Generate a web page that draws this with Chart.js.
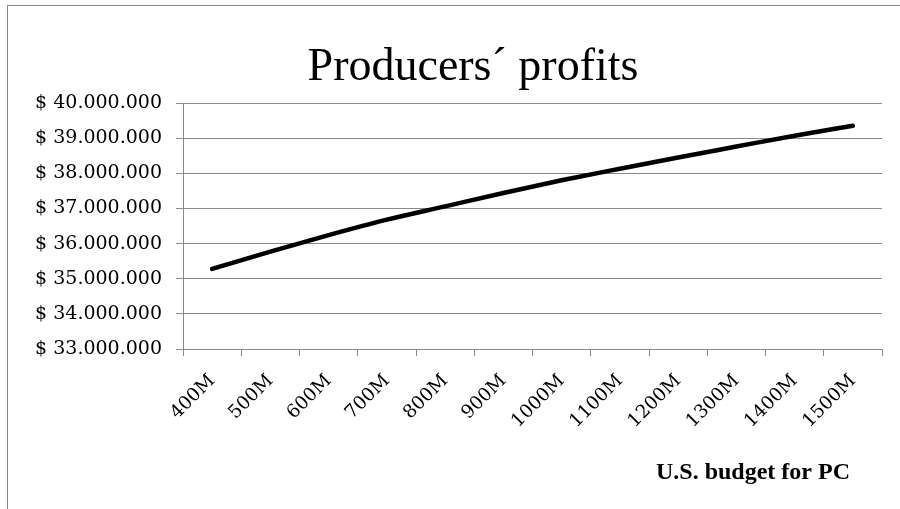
<!DOCTYPE html>
<html>
<head>
<meta charset="utf-8">
<script src="https://cdn.jsdelivr.net/npm/chart.js@4/dist/chart.umd.min.js"></script>
<style>
  html, body { margin: 0; padding: 0; background: #fff; overflow: hidden; }
  #frame { position: absolute; left: 7px; top: 5px; width: 1200px; height: 1200px; border: 1px solid #8a8a8a; }
  #c { position: absolute; left: 0; top: 0; }
</style>
</head>
<body>
<div id="frame"></div>
<canvas id="c" width="900" height="509"></canvas>
<script>
const chartTitle = 'Producers´ profits';
const xAxisTitle = 'U.S. budget for PC';
const categories = ['400M', '500M', '600M', '700M', '800M', '900M', '1000M', '1100M', '1200M', '1300M', '1400M', '1500M'];
const profits = [35280000, 35770000, 36240000, 36680000, 37060000, 37440000, 37800000, 38130000, 38450000, 38760000, 39070000, 39350000];
const yMin = 33000000;
const yMax = 40000000;
const yStep = 1000000;

const TITLE_FONT = "'Liberation Serif', 'Times New Roman', serif";
const LABEL_FONT = "'DejaVu Serif', 'Liberation Serif', serif";
const GRID = '#8a8a8a';

function fmtMoney(v) {
  return '$ ' + String(Math.round(v)).replace(/\B(?=(\d{3})+(?!\d))/g, '.');
}

// Draws the chart title and the x axis title as canvas text.
const titlesPlugin = {
  id: 'titles',
  afterDraw(chart) {
    const ctx = chart.ctx;
    const ca = chart.chartArea;
    ctx.save();
    ctx.fillStyle = '#000';
    ctx.textBaseline = 'alphabetic';
    ctx.font = '46px ' + TITLE_FONT;
    ctx.textAlign = 'center';
    ctx.fillText(chartTitle, 473, ca.top - 23);
    ctx.font = 'bold 24px ' + TITLE_FONT;
    ctx.textAlign = 'right';
    ctx.fillText(xAxisTitle, ca.right - 32, 479);
    ctx.restore();
  }
};

new Chart(document.getElementById('c'), {
  type: 'line',
  data: {
    labels: categories,
    datasets: [{
      data: profits,
      borderColor: '#000',
      borderWidth: 4.5,
      borderCapStyle: 'round',
      borderJoinStyle: 'round',
      pointRadius: 0,
      fill: false,
      cubicInterpolationMode: 'monotone'
    }]
  },
  options: {
    responsive: false,
    animation: false,
    devicePixelRatio: 1,
    layout: { padding: { left: 30, right: 18, top: 103, bottom: 0 } },
    plugins: {
      legend: { display: false },
      tooltip: { enabled: false },
      title: { display: false }
    },
    scales: {
      x: {
        type: 'category',
        offset: true,
        grid: { display: true, drawOnChartArea: false, drawTicks: true, tickLength: 7, offset: true, color: GRID, lineWidth: 1 },
        border: { display: true, color: GRID, width: 1 },
        ticks: {
          color: '#000',
          font: { family: LABEL_FONT, size: 18.5 },
          minRotation: 45,
          maxRotation: 45,
          padding: 14,
          autoSkip: false
        },
        afterFit(scale) { scale.height = 160; }
      },
      y: {
        min: yMin,
        max: yMax,
        grid: { display: true, drawTicks: true, tickLength: 7, color: GRID, lineWidth: 1 },
        border: { display: true, color: GRID, width: 1 },
        ticks: {
          stepSize: yStep,
          color: '#000',
          font: { family: LABEL_FONT, size: 19 },
          padding: 14,
          callback: (v) => fmtMoney(v)
        },
        afterFit(scale) { scale.width = 153; }
      }
    }
  },
  plugins: [titlesPlugin]
});
</script>
</body>
</html>
